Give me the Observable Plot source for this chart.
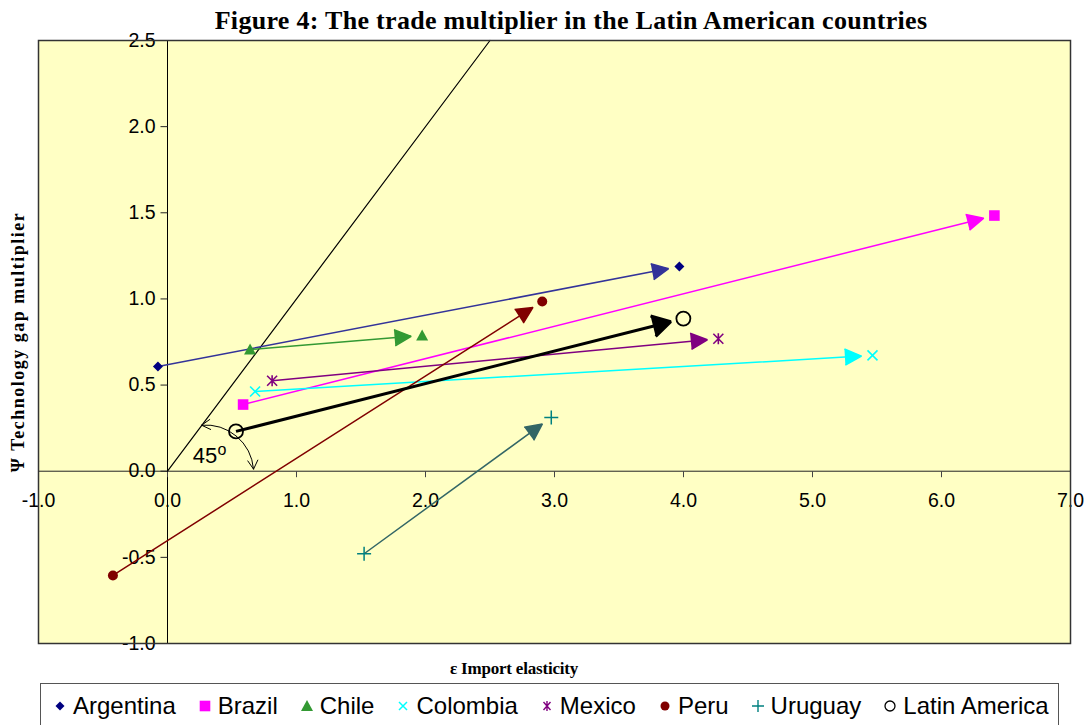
<!DOCTYPE html>
<html>
<head>
<meta charset="utf-8">
<script src="https://cdn.jsdelivr.net/npm/d3@7"></script>
<script src="https://cdn.jsdelivr.net/npm/@observablehq/plot@0.6"></script>
<style>
  body { margin: 0; background: #fff; width: 1086px; height: 725px; overflow: hidden; font-family: "Liberation Sans", Arial, sans-serif; }
  #title { position: relative; height: 32px; }
  #title span { position: absolute; left: 571px; top: 8px; transform: translateX(-50%); white-space: nowrap;
    font: bold 26px/26px "Liberation Serif", "Times New Roman", serif; letter-spacing: 0.3px; color: #000; }
  #chart svg { display: block; overflow: visible; }
  #xlabel { position: relative; height: 28px; }
  #xlabel span { position: absolute; left: 514px; top: 5px; transform: translateX(-50%); white-space: nowrap;
    font: bold 17px/17px "Liberation Serif", "Times New Roman", serif; letter-spacing: -0.2px; color: #000; }
  #legend { margin-left: 40px; width: 1019px; height: 50px; border: 1px solid #555; box-sizing: border-box; position: relative; }
  #legend .row { position: absolute; top: 10px; left: 11px; display: flex; height: 24px; }
  #legend .item { display: flex; align-items: flex-start; margin-right: 21px; }
  #legend .item svg { display: block; width: 16px; height: 24px; }
  #legend .item span { margin-left: 5px; font: 24px/24px "Liberation Sans", Arial, sans-serif; color: #000; white-space: nowrap; }
</style>
</head>
<body>
<div id="title"><span>Figure 4: The trade multiplier in the Latin American countries</span></div>
<div id="chart"></div>
<div id="xlabel"><span>ε Import elasticity</span></div>
<div id="legend"><div class="row"></div></div>
<script>
// ---------- data ----------
const countries = ["Argentina", "Brazil", "Chile", "Colombia", "Mexico", "Peru", "Uruguay", "Latin America"];
const startX = [-0.074, 0.586, 0.640, 0.679, 0.811, -0.423, 1.524, 0.531];
const startY = [0.608, 0.387, 0.706, 0.463, 0.525, -0.605, -0.479, 0.231];
const endX   = [3.968, 6.410, 1.974, 5.465, 4.270, 2.905, 2.975, 3.999];
const endY   = [1.188, 1.484, 0.788, 0.672, 0.769, 0.985, 0.312, 0.886];
const xTicks = [-1, 0, 1, 2, 3, 4, 5, 6, 7];
const yTicks = [-1, -0.5, 0, 0.5, 1, 1.5, 2, 2.5];
const diagX = [0, 2.5];
const diagY = [0, 2.5];
// 45° annotation (arc from its midpoint towards both ends)
const arcMidX = [0.535];
const arcMidY = [0.203];
const arcEndX = [0.264, 0.667];
const arcEndY = [0.267, 0.012];
const angleLabel = ["45", "o"];
const angleLabelX = [0.291, 0.423];
const angleLabelY = [0.091, 0.124];
const yTitle = "Ψ Technology gap multiplier";

// ---------- styles ----------
const markerColors = ["#000080", "#FF00FF", "#339933", "#00FFFF", "#800080", "#800000", "#008080", "#000000"];
const lineColors   = ["#333399", "#FF00FF", "#339933", "#00FFFF", "#800080", "#800000", "#336666", "#000000"];
const sans = "Liberation Sans, Arial, sans-serif";
const serif = "Liberation Serif, Times New Roman, serif";

const sym = (f) => ({draw: f});
const symbols = [
  {s: sym(c => { c.moveTo(0,-5); c.lineTo(5,0); c.lineTo(0,5); c.lineTo(-5,0); c.closePath(); }), filled: true},
  {s: sym(c => { c.moveTo(-5.3,-5.3); c.lineTo(5.3,-5.3); c.lineTo(5.3,5.3); c.lineTo(-5.3,5.3); c.closePath(); }), filled: true},
  {s: sym(c => { c.moveTo(0,-6); c.lineTo(6,5); c.lineTo(-6,5); c.closePath(); }), filled: true},
  {s: sym(c => { c.moveTo(-5,-5); c.lineTo(5,5); c.moveTo(5,-5); c.lineTo(-5,5); }), filled: false, sw: 1.6},
  {s: sym(c => { c.moveTo(-5,-5); c.lineTo(5,5); c.moveTo(5,-5); c.lineTo(-5,5); c.moveTo(0,-5.5); c.lineTo(0,5.5); }), filled: false, sw: 1.6},
  {s: sym(c => { c.moveTo(5,0); c.arc(0,0,5,0,2*Math.PI); c.closePath(); }), filled: true},
  {s: sym(c => { c.moveTo(-7,0); c.lineTo(7,0); c.moveTo(0,-7); c.lineTo(0,7); }), filled: false, sw: 1.5},
  {s: sym(c => { c.moveTo(7,0); c.arc(0,0,7,0,2*Math.PI); c.closePath(); }), filled: false, sw: 1.8}
];
const yTickSym = sym(c => { c.moveTo(-7,0); c.lineTo(0,0); });
const xTickSym = sym(c => { c.moveTo(0,0); c.lineTo(0,6); });

const series = countries.map((name, i) => ({name, x1: startX[i], y1: startY[i], x2: endX[i], y2: endY[i]}));

const arrowMarks = [];
const dotMarks = [];
series.forEach((d, i) => {
  const isLA = i === series.length - 1;
  arrowMarks.push(Plot.arrow([d], {
    x1: "x1", y1: "y1", x2: "x2", y2: "y2",
    stroke: lineColors[i], fill: lineColors[i],
    strokeWidth: isLA ? 3 : 1.5,
    headLength: isLA ? 10.5 : 18.5,
    headAngle: isLA ? 60 : 52,
    insetEnd: isLA ? 13 : 11,
    strokeLinecap: "butt"
  }));
  const pts = [{x: d.x1, y: d.y1}, {x: d.x2, y: d.y2}];
  const sd = symbols[i];
  dotMarks.push(Plot.dot(pts, {
    x: "x", y: "y", symbol: sd.s,
    fill: sd.filled ? markerColors[i] : "none",
    stroke: sd.filled ? "none" : markerColors[i],
    strokeWidth: sd.sw || 1
  }));
});

const chart = Plot.plot({
  width: 1086,
  height: 623,
  marginTop: 8,
  marginBottom: 12,
  marginLeft: 38,
  marginRight: 16,
  x: {domain: [-1, 7], axis: null},
  y: {domain: [-1, 2.5], axis: null},
  style: {background: "transparent", overflow: "visible"},
  marks: [
    Plot.frame({fill: "#FFFFC4", stroke: null}),
    Plot.ruleY([0], {stroke: "#222", strokeWidth: 1}),
    Plot.ruleX([0], {stroke: "#000", strokeWidth: 1}),
    Plot.dot(yTicks, {x: 0, y: d => d, symbol: yTickSym, stroke: "#222", fill: "none", strokeWidth: 1}),
    Plot.dot(xTicks, {x: d => d, y: 0, symbol: xTickSym, stroke: "#444", fill: "none", strokeWidth: 1}),
    Plot.text(yTicks, {x: 0, y: d => d, text: d => d.toFixed(1), textAnchor: "end", dx: -12,
      fontSize: 19.5, fontFamily: sans, fill: "#000", lineAnchor: "middle"}),
    Plot.text(xTicks, {x: d => d, y: 0, text: d => d.toFixed(1), dy: 30,
      fontSize: 19.5, fontFamily: sans, fill: "#000", lineAnchor: "middle"}),
    Plot.line(diagX.map((x, i) => ({x, y: diagY[i]})), {x: "x", y: "y", stroke: "#000", strokeWidth: 1.2}),
    Plot.arrow([0], {x1: arcMidX[0], y1: arcMidY[0], x2: arcEndX[0], y2: arcEndY[0], bend: -22.5,
      stroke: "#000", strokeWidth: 1, headLength: 15, headAngle: 60}),
    Plot.arrow([0], {x1: arcMidX[0], y1: arcMidY[0], x2: arcEndX[1], y2: arcEndY[1], bend: 22.5,
      stroke: "#000", strokeWidth: 1, headLength: 15, headAngle: 60}),
    Plot.text([angleLabel[0]], {x: angleLabelX[0], y: angleLabelY[0], text: d => d, fontSize: 22, fontFamily: sans, fill: "#000", lineAnchor: "middle"}),
    Plot.text([angleLabel[1]], {x: angleLabelX[1], y: angleLabelY[1], text: d => d, fontSize: 16, fontFamily: sans, fill: "#000", lineAnchor: "middle"}),
    ...arrowMarks,
    ...dotMarks,
    Plot.frame({stroke: "#333", strokeWidth: 1.5, fill: "none"}),
    Plot.text([yTitle], {frameAnchor: "left", dx: -20, rotate: -90, text: d => d, fontSize: 18, fontWeight: "bold",
      fontFamily: serif, fill: "#000", textAnchor: "middle", lineAnchor: "middle"})
  ]
});
document.getElementById("chart").appendChild(chart);
d3.select(chart).selectAll("text").filter(function() { return this.textContent === yTitle; })
  .style("letter-spacing", "1.5px");

// ---------- legend ----------
const row = document.querySelector("#legend .row");
const ns = "http://www.w3.org/2000/svg";
const legendShapes = [
  (c) => `<path d="M8,7.5L12.5,12L8,16.5L3.5,12Z" fill="${c}"/>`,
  (c) => `<rect x="2.7" y="6.7" width="10.6" height="10.6" fill="${c}"/>`,
  (c) => `<path d="M8,6L14,17L2,17Z" fill="${c}"/>`,
  (c) => `<path d="M4,8L12,16M12,8L4,16" stroke="${c}" stroke-width="1.5" fill="none"/>`,
  (c) => `<path d="M4.5,8L11.5,16M11.5,8L4.5,16M8,7L8,17" stroke="${c}" stroke-width="1.4" fill="none"/>`,
  (c) => `<circle cx="8" cy="12" r="4.5" fill="${c}"/>`,
  (c) => `<path d="M2,12L14,12M8,6L8,18" stroke="${c}" stroke-width="1.4" fill="none"/>`,
  (c) => `<circle cx="8" cy="12" r="5" stroke="${c}" stroke-width="1.3" fill="none"/>`
];
countries.forEach((name, i) => {
  const item = document.createElement("div");
  item.className = "item";
  item.innerHTML = `<svg xmlns="${ns}" viewBox="0 0 16 24">${legendShapes[i](markerColors[i])}</svg><span>${name}</span>`;
  row.appendChild(item);
});
</script>
</body>
</html>
